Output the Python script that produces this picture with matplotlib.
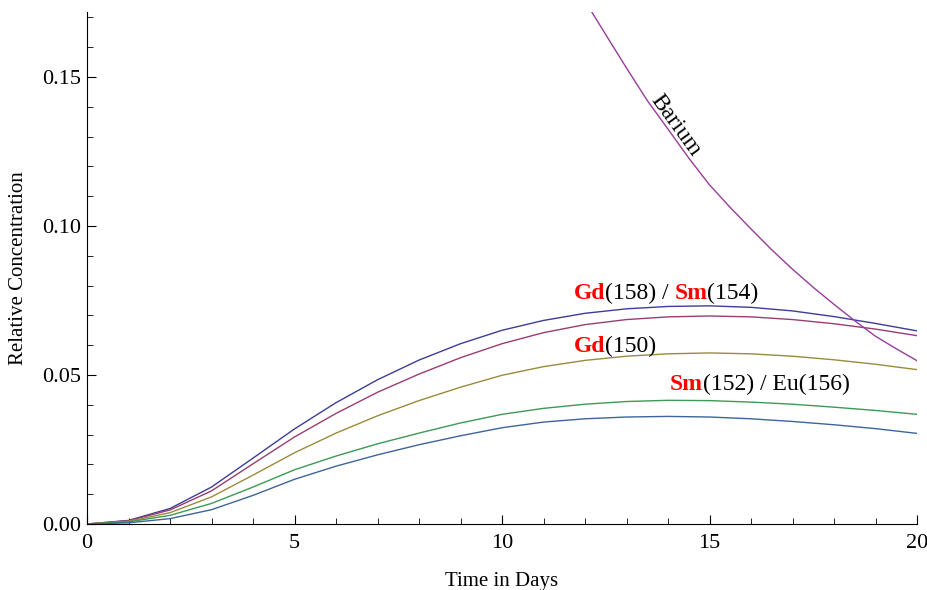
import matplotlib
matplotlib.use("Agg")
import matplotlib.pyplot as plt
from matplotlib.offsetbox import TextArea, HPacker, AnnotationBbox
from matplotlib.ticker import MultipleLocator, FormatStrFormatter

plt.rcParams['font.family'] = ['Liberation Serif', 'DejaVu Serif']

days = list(range(0, 21))
gd158 = [0, 0.0012, 0.0052, 0.0124, 0.0221, 0.0319, 0.0407, 0.0484, 0.0550, 0.0605, 0.0650,
         0.0683, 0.0707, 0.0722, 0.0730, 0.0732, 0.0727, 0.0715, 0.0696, 0.0673, 0.0648]
sm154 = [0, 0.0011, 0.0047, 0.0111, 0.0202, 0.0292, 0.0371, 0.0442, 0.0503, 0.0558, 0.0605,
         0.0642, 0.0669, 0.0686, 0.0695, 0.0698, 0.0695, 0.0686, 0.0672, 0.0654, 0.0632]
gd150 = [0, 0.0009, 0.0038, 0.0091, 0.0164, 0.0239, 0.0305, 0.0363, 0.0414, 0.0459, 0.0499,
         0.0528, 0.0549, 0.0563, 0.0571, 0.0574, 0.0571, 0.0563, 0.0551, 0.0536, 0.0518]
sm152 = [0, 0.0007, 0.0029, 0.0069, 0.0124, 0.0182, 0.0228, 0.0269, 0.0305, 0.0339, 0.0368,
         0.0388, 0.0402, 0.0411, 0.0415, 0.0414, 0.0409, 0.0402, 0.0392, 0.0381, 0.0368]
eu156 = [0, 0.0004, 0.0018, 0.0048, 0.0096, 0.0150, 0.0194, 0.0232, 0.0266, 0.0296, 0.0323,
         0.0342, 0.0353, 0.0359, 0.0361, 0.0359, 0.0353, 0.0344, 0.0333, 0.0320, 0.0304]
ba_days = [12, 12.5, 13, 13.5, 14, 14.5, 15, 15.5, 16, 16.5, 17, 17.5, 18, 18.5, 19, 19.5, 20]
barium = [0.1755, 0.1642, 0.1530, 0.1421, 0.1325, 0.1228, 0.1138, 0.1062, 0.0990, 0.0920,
          0.0855, 0.0794, 0.0737, 0.0682, 0.0630, 0.0588, 0.0548]

colors = ['#3D3D99', '#993D71', '#998B3D', '#3D9954', '#3D6599', '#973D99']
series = [gd158, sm154, gd150, sm152, eu156]

fig = plt.figure(figsize=(9.28, 5.90), dpi=100)
ax = fig.add_axes([87/928, 1-524/590, (917-87)/928, (524-12)/590])

for s, c in zip(series, colors):
    ax.plot(days, s, color=c, lw=1.0)
ax.plot(ba_days, barium, color=colors[5], lw=1.0)

ax.set_xlim(0, 20)
ax.set_ylim(0, 0.1718)
ax.spines['top'].set_visible(False)
ax.spines['right'].set_visible(False)
for sp in ('left', 'bottom'):
    ax.spines[sp].set_linewidth(0.8)
ax.xaxis.set_major_locator(MultipleLocator(5))
ax.xaxis.set_minor_locator(MultipleLocator(1))
ax.yaxis.set_major_locator(MultipleLocator(0.05))
ax.yaxis.set_minor_locator(MultipleLocator(0.01))
ax.yaxis.set_major_formatter(FormatStrFormatter('%.2f'))
ax.tick_params(which='major', direction='in', length=6.5, width=0.8, labelsize=16)
ax.tick_params(axis='y', which='major', pad=4)
ax.tick_params(axis='x', which='major', pad=7)
ax.tick_params(which='minor', direction='in', length=4, width=0.6)

fig.text(502/928, 1-586/590, 'Time in Days', ha='center', va='baseline', fontsize=15)
fig.text(19/928, 1-268/590, 'Relative Concentration', ha='center', va='center',
         rotation=90, fontsize=15)


def label(parts, xy):
    areas = []
    for txt, red in parts:
        props = dict(fontsize=17, family=['Liberation Serif'])
        if red:
            props.update(color='#FF0000', fontweight='bold')
        else:
            props.update(color='black')
        areas.append(TextArea(txt, textprops=props))
    pack = HPacker(children=areas, align='baseline', pad=0, sep=0)
    ab = AnnotationBbox(pack, xy, xycoords='data', box_alignment=(0, 0),
                        frameon=False, pad=0)
    ax.add_artist(ab)


label([('Gd', True), ('(158) / ', False), ('Sm', True), ('(154)', False)], (11.72, 0.0737))
label([('Gd', True), ('(150)', False)], (11.72, 0.0560))
label([('Sm', True), ('(152) / Eu(156)', False)], (14.05, 0.0433))

ax.text(14.19, 0.1336, 'Barium', rotation=-54, fontsize=17, ha='center', va='center',
        rotation_mode='anchor')

fig.savefig('out.png', dpi=100)
